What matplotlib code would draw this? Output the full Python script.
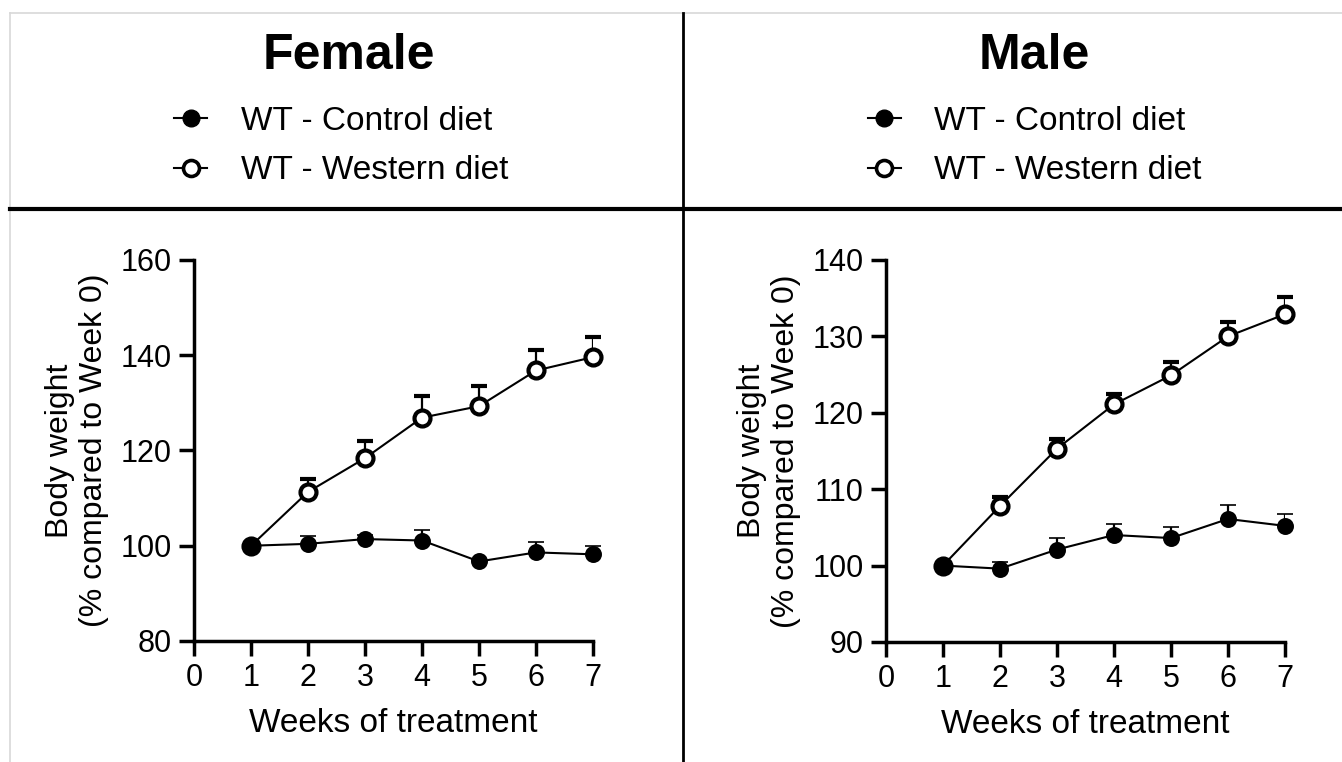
import matplotlib
matplotlib.use("Agg")
import matplotlib.pyplot as plt
from matplotlib.lines import Line2D
import numpy as np

plt.rcParams['font.family'] = ['Liberation Sans', 'DejaVu Sans']

# Data (mean and upper SEM)
weeks = [1, 2, 3, 4, 5, 6, 7]

female_control = [100, 100.4, 101.4, 101.1, 96.7, 98.6, 98.2]
female_control_sem = [0, 1.6, 0.8, 2.3, 0.5, 2.1, 1.8]
female_western = [100, 111.3, 118.4, 126.9, 129.3, 136.8, 139.6]
female_western_sem = [0, 2.8, 3.6, 4.5, 4.3, 4.4, 4.3]

male_control = [100, 99.6, 102.1, 104.0, 103.6, 106.1, 105.2]
male_control_sem = [0, 0.9, 1.5, 1.5, 1.5, 1.8, 1.6]
male_western = [100, 107.8, 115.3, 121.1, 124.9, 130.0, 132.9]
male_western_sem = [0, 1.2, 1.3, 1.3, 1.8, 1.9, 2.2]

titles = ["Female", "Male"]
legend_labels = ["WT - Control diet", "WT - Western diet"]
x_ticks = [0, 1, 2, 3, 4, 5, 6, 7]
female_yticks = [80, 100, 120, 140, 160]
male_yticks = [90, 100, 110, 120, 130, 140]


def draw_panel(ax, control, control_sem, western, western_sem, yticks):
    zeros = np.zeros(len(weeks))
    # western first so the control point sits on top at week 1
    ax.errorbar(weeks, western, yerr=[zeros, western_sem], fmt='o-', color='black',
                mfc='white', mec='black', ms=11.5, mew=3, lw=1.5,
                elinewidth=1.6, capsize=5.5, capthick=1.6, zorder=3)
    ax.errorbar(weeks, control, yerr=[zeros, control_sem], fmt='o-', color='black',
                mfc='black', mec='black', ms=11, mew=1.2, lw=1.5,
                elinewidth=1.6, capsize=5.5, capthick=1.6, zorder=4)
    ax.set_xlim(0, 7)
    ax.set_ylim(yticks[0], yticks[-1])
    ax.set_xticks(x_ticks)
    ax.set_yticks(yticks)
    for s in ['top', 'right']:
        ax.spines[s].set_visible(False)
    for s in ['left', 'bottom']:
        ax.spines[s].set_linewidth(2.5)
    ax.tick_params(axis='both', direction='out', length=11, width=2.5,
                   labelsize=22, pad=5)
    ax.set_xlabel("Weeks of treatment", fontsize=24, labelpad=11)
    ax.set_ylabel("Body weight\n(% compared to Week 0)", fontsize=23, labelpad=8)
    for sp in ax.spines.values():
        sp.set_clip_on(False)
    for ln in ax.lines:
        ln.set_clip_on(False)


fig = plt.figure(figsize=(13.42, 7.62), dpi=100)

ax1 = fig.add_axes([0.1446, 0.1588, 0.2973, 0.5])
ax2 = fig.add_axes([0.6602, 0.1575, 0.2973, 0.5013])

draw_panel(ax1, female_control, female_control_sem, female_western, female_western_sem, female_yticks)
draw_panel(ax2, male_control, male_control_sem, male_western, male_western_sem, male_yticks)

# header titles
fig.text(0.260, 0.927, titles[0], fontsize=36, fontweight='bold', ha='center', va='center')
fig.text(0.771, 0.927, titles[1], fontsize=36, fontweight='bold', ha='center', va='center')

# legends
handles = [
    Line2D([], [], color='black', lw=1.5, marker='o', ms=12, mfc='black', mec='black'),
    Line2D([], [], color='black', lw=1.5, marker='o', ms=11.5, mfc='white', mec='black', mew=2.6),
]
for cx in [0.254, 0.771]:
    fig.legend(handles, legend_labels, loc='center', bbox_to_anchor=(cx, 0.808),
               frameon=False, fontsize=24, handlelength=1.0, handletextpad=1.0,
               labelspacing=0.55)

# panel frame lines
fig.add_artist(Line2D([10 / 1342, 1], [1 - 13 / 762, 1 - 13 / 762], color='#d8d8d8', lw=1.2))
fig.add_artist(Line2D([10 / 1342, 10 / 1342], [0, 1 - 13 / 762], color='#d8d8d8', lw=1.2))
fig.add_artist(Line2D([10 / 1342, 1], [1 - 209 / 762, 1 - 209 / 762], color='black', lw=3))
fig.add_artist(Line2D([683 / 1342, 683 / 1342], [0, 1 - 13 / 762], color='black', lw=2))

fig.savefig("out.png", dpi=100)
